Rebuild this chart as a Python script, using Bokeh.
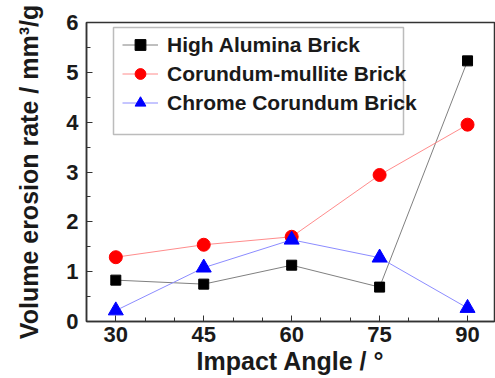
from bokeh.plotting import figure
from bokeh.models import Legend, LegendItem, Range1d, FixedTicker, BoxAnnotation
from bokeh.embed import file_html
from bokeh.resources import INLINE

angles = [30, 45, 60, 75, 90]
high_alumina = [0.83, 0.75, 1.13, 0.69, 5.23]
corundum_mullite = [1.29, 1.54, 1.70, 2.94, 3.95]
chrome_corundum = [0.22, 1.08, 1.64, 1.28, 0.27]
names = ["High Alumina Brick", "Corundum-mullite Brick", "Chrome Corundum Brick"]
x_ticks = [30, 45, 60, 75, 90]
y_ticks = [0, 1, 2, 3, 4, 5, 6]
x_title = "Impact Angle / °"
y_title = "Volume erosion rate / mm³/g"

FONT = "Liberation Sans"

p = figure(width=495, height=377, output_backend="svg", toolbar_location=None,
           x_range=Range1d(25, 94.6), y_range=Range1d(0, 6),
           min_border_left=86, min_border_right=1, min_border_top=22, min_border_bottom=55)
p.grid.visible = False
p.outline_line_color = "#333333"
p.outline_line_width = 1.5

r1l = p.line(angles, high_alumina, line_color="#808080", line_width=1)
r1m = p.scatter(angles, high_alumina, marker="square", size=10, fill_color="black", line_color="black")
r2l = p.line(angles, corundum_mullite, line_color="#ff8c8c", line_width=1)
r2m = p.scatter(angles, corundum_mullite, marker="circle", size=13, fill_color="red", line_color="red")
r3l = p.line(angles, chrome_corundum, line_color="#8c8cff", line_width=1)
r3m = p.scatter(angles, chrome_corundum, marker="triangle", size=15, fill_color="blue", line_color="blue")

for ax in (p.xaxis[0], p.yaxis[0]):
    ax.axis_line_color = "#333333"
    ax.axis_line_width = 1.5
    ax.major_tick_in = 6
    ax.major_tick_out = 0
    ax.minor_tick_in = 4
    ax.minor_tick_out = 0
    ax.major_tick_line_color = "#333333"
    ax.minor_tick_line_color = "#333333"
    ax.major_label_text_font = FONT
    ax.major_label_text_font_style = "bold"
    ax.major_label_text_font_size = "22px"
    ax.major_label_text_color = "#1a1a1a"
    ax.axis_label_text_font = FONT
    ax.axis_label_text_font_style = "bold"
    ax.axis_label_text_font_size = "25px"
    ax.axis_label_text_color = "#1a1a1a"

p.xaxis[0].ticker = FixedTicker(ticks=x_ticks, minor_ticks=[25, 35, 40, 50, 55, 65, 70, 80, 85])
p.yaxis[0].ticker = FixedTicker(ticks=y_ticks, minor_ticks=[0.5, 1.5, 2.5, 3.5, 4.5, 5.5])
p.xaxis[0].axis_label = x_title
p.yaxis[0].axis_label = y_title
p.xaxis[0].major_label_standoff = 5
p.yaxis[0].major_label_standoff = 8
p.xaxis[0].axis_label_standoff = 2
p.yaxis[0].axis_label_standoff = 20
p.xaxis[0].major_label_text_line_height = 0.9
p.xaxis[0].axis_label_text_line_height = 0.8

box = BoxAnnotation(left=113, right=403, top=27, bottom=134,
                    left_units="canvas", right_units="canvas", top_units="canvas", bottom_units="canvas",
                    fill_color="white", fill_alpha=1, line_color="#222222", line_width=1.5)
p.add_layout(box)

legend = Legend(items=[LegendItem(label=names[0], renderers=[r1l, r1m]),
                       LegendItem(label=names[1], renderers=[r2l, r2m]),
                       LegendItem(label=names[2], renderers=[r3l, r3m])],
                location=(36, 205), padding=0, spacing=2, margin=0,
                glyph_width=36, glyph_height=27, label_height=27, label_standoff=9,
                border_line_alpha=0, background_fill_alpha=0,
                label_text_font=FONT, label_text_font_style="bold", label_text_font_size="21px",
                label_text_color="#1a1a1a")
p.add_layout(legend)

open("out.html", "w").write(file_html(p, INLINE))
